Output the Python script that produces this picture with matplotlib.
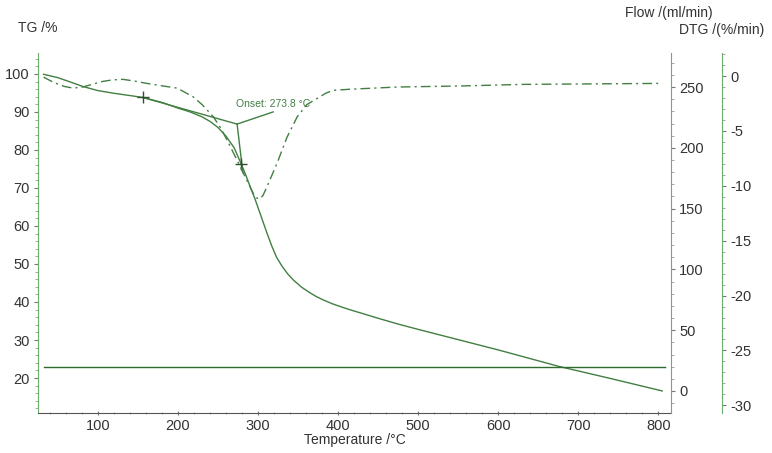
import matplotlib
matplotlib.use("Agg")
import matplotlib.pyplot as plt
from matplotlib.ticker import MultipleLocator

plt.rcParams["font.family"] = ["Liberation Sans", "DejaVu Sans"]
plt.rcParams["axes.unicode_minus"] = False

# ---- data ----
tg_temp = [32, 50, 65, 81, 100, 120, 140, 156, 180, 200, 215, 230, 240, 250, 260, 270,
           279, 285, 290, 296, 301, 306, 311, 317, 323, 330, 337, 344, 355, 365, 373,
           382, 392, 402, 415, 430, 452, 475, 500, 550, 600, 677, 740, 805]
tg_val = [99.9, 99.0, 97.9, 96.7, 95.6, 94.9, 94.3, 93.8, 92.5, 91.0, 90.0, 88.7, 87.5,
          85.9, 83.6, 80.6, 76.3, 73.2, 70.4, 67.2, 64.2, 61.2, 58.2, 54.8, 51.8, 49.4,
          47.4, 45.8, 43.8, 42.4, 41.4, 40.5, 39.6, 38.85, 37.95, 37.0, 35.6, 34.2, 32.8,
          30.1, 27.4, 23.0, 19.9, 16.6]

dtg_temp = [32, 45, 58, 69, 81, 93, 105, 118, 131, 145, 161, 181, 199, 219, 230, 244, 253,
            261, 274, 286, 294, 298, 302, 306, 311, 324, 336, 349, 361, 370, 377, 385,
            394, 405, 415, 474, 556, 631, 800]
dtg_val = [-0.1, -0.6, -0.95, -1.1, -1.0, -0.75, -0.5, -0.35, -0.3, -0.45, -0.67, -0.9,
           -1.1, -1.9, -2.6, -3.7, -4.7, -5.8, -7.7, -9.5, -10.7, -11.1, -11.2, -10.9,
           -10.1, -7.9, -5.6, -3.7, -2.6, -2.2, -1.9, -1.55, -1.3, -1.25, -1.2, -1.0,
           -0.9, -0.76, -0.67]

flow_temp = [32, 809]
flow_val = [20, 20]

onset_temp = 273.8
onset_tg = 86.8
onset_label = "Onset: 273.8 °C"
tangent1_temp = [156, onset_temp]
tangent1_tg = [93.8, onset_tg]
tangent2_temp = [onset_temp, 281]
tangent2_tg = [onset_tg, 74.0]
leader_temp = [onset_temp, 318.8]
leader_tg = [onset_tg, 90.0]
cross_temp = [156, 279]
cross_tg = [93.8, 76.3]

line_c = "#427f42"
spine_c = "#6cae6c"
text_c = "#333333"

fig = plt.figure(figsize=(7.72, 4.53), dpi=100)
ax = fig.add_axes([38 / 772, 40 / 453, 633 / 772, 360 / 453])
ax_flow = ax.twinx()
ax_dtg = ax.twinx()

ax.set_xlim(25, 816)
ax.set_ylim(10.8, 105.5)
ax_flow.set_ylim(-18.1, 278)
ax_dtg.set_ylim(-30.7, 2.1)

# lines
ax.plot(tg_temp, tg_val, color=line_c, lw=1.0)
ax.plot(tangent1_temp, tangent1_tg, color=line_c, lw=1.0)
ax.plot(tangent2_temp, tangent2_tg, color=line_c, lw=1.0)
ax.plot(leader_temp, leader_tg, color=line_c, lw=1.0)
ax.plot(cross_temp, cross_tg, ls="none", marker="+", ms=9, mew=1.0, color="#2f4f2f")
ax.text(onset_temp - 1.5, 90.9, onset_label, color=line_c, fontsize=7.5, va="bottom", ha="left")

ax_flow.plot(flow_temp, flow_val, color="#2f6a2f", lw=1.0)
ax_dtg.plot(dtg_temp, dtg_val, color=line_c, lw=1.0, dashes=(7, 3, 1.5, 3))

# spines
for a in (ax, ax_flow, ax_dtg):
    a.spines["top"].set_visible(False)
ax.spines["right"].set_visible(False)
ax.spines["left"].set_color(spine_c)
ax.spines["bottom"].set_color("#555555")
ax_flow.spines["left"].set_visible(False)
ax_flow.spines["bottom"].set_visible(False)
ax_flow.spines["right"].set_color(spine_c)
ax_dtg.spines["left"].set_visible(False)
ax_dtg.spines["bottom"].set_visible(False)
ax_dtg.spines["right"].set_position(("axes", 684 / 633))
ax_dtg.spines["right"].set_color(spine_c)

# ticks
ax.set_xticks([100, 200, 300, 400, 500, 600, 700, 800])
ax.xaxis.set_minor_locator(MultipleLocator(20))
ax.set_yticks([20, 30, 40, 50, 60, 70, 80, 90, 100])
ax.yaxis.set_minor_locator(MultipleLocator(2))
ax_flow.set_yticks([0, 50, 100, 150, 200, 250])
ax_flow.yaxis.set_minor_locator(MultipleLocator(10))
ax_dtg.set_yticks([0, -5, -10, -15, -20, -25, -30])
ax_dtg.yaxis.set_minor_locator(MultipleLocator(1))

for a in (ax, ax_flow, ax_dtg):
    a.tick_params(which="major", length=3, width=0.8, color="#777777", labelsize=10.5,
                  labelcolor=text_c, pad=3)
    a.tick_params(which="minor", length=2, width=0.6, color="#999999")
ax.tick_params(axis="x", which="both", direction="inout")

ax.set_xlabel("Temperature /°C", fontsize=10, color=text_c, labelpad=0)
fig.text(18 / 772, 1 - 28 / 453, "TG /%", fontsize=10, color=text_c, va="center", ha="left")
fig.text(669 / 772, 1 - 13 / 453, "Flow /(ml/min)", fontsize=10, color=text_c, va="center", ha="center")
fig.text(722 / 772, 1 - 30 / 453, "DTG /(%/min)", fontsize=10, color=text_c, va="center", ha="center")

fig.savefig("out.png", dpi=100)
